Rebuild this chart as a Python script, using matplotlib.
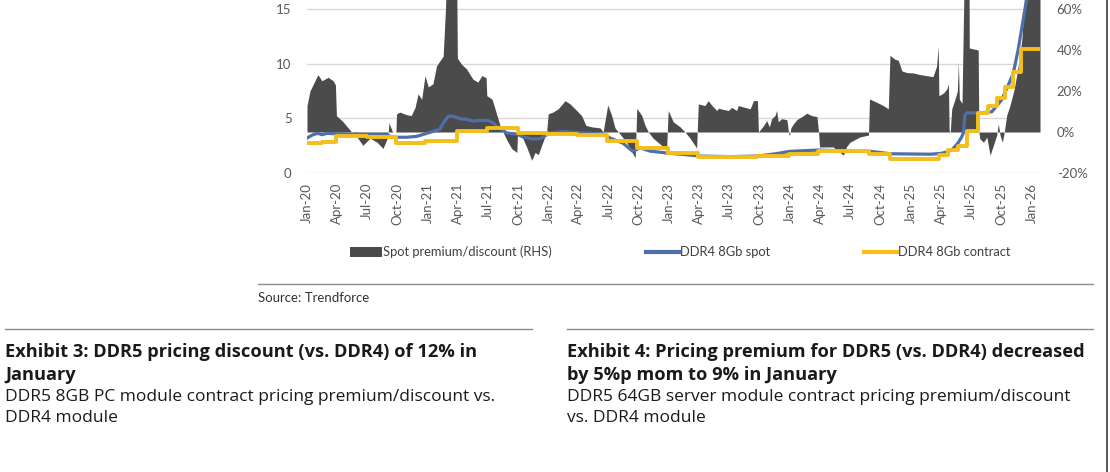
import matplotlib
matplotlib.use("Agg")
import matplotlib.pyplot as plt
import matplotlib.dates as mdates
from matplotlib.lines import Line2D
from matplotlib.patches import Patch
import pandas as pd

# spot premium/discount vs contract, % (right axis)
premium = [
    ("2020-01-01", 12.9), ("2020-01-10", 20), ("2020-01-22", 24), ("2020-02-03", 28),
    ("2020-02-15", 25), ("2020-03-05", 26.7), ("2020-03-20", 25), ("2020-03-27", 23),
    ("2020-03-30", 8), ("2020-04-19", 5), ("2020-05-15", 0), ("2020-05-25", -1),
    ("2020-06-18", -6.5), ("2020-07-10", -3), ("2020-07-31", -5), ("2020-08-18", -8),
    ("2020-08-31", -3), ("2020-09-03", 0), ("2020-09-05", 4.5), ("2020-09-16", 0),
    ("2020-09-26", 0), ("2020-09-28", 8.9), ("2020-10-08", 9.7), ("2020-10-27", 8.5),
    ("2020-11-11", 8), ("2020-11-23", 12), ("2020-12-02", 18.6), ("2020-12-13", 16),
    ("2020-12-23", 27.5), ("2021-01-02", 22), ("2021-01-16", 23.5), ("2021-01-27", 32.3),
    ("2021-02-16", 37), ("2021-02-23", 60), ("2021-02-28", 85), ("2021-03-15", 90),
    ("2021-03-29", 75), ("2021-03-31", 36), ("2021-04-13", 33), ("2021-04-28", 30.7),
    ("2021-05-17", 25.8), ("2021-06-01", 24.3), ("2021-06-13", 27.5), ("2021-06-26", 26.5),
    ("2021-06-28", 17.7), ("2021-07-14", 16), ("2021-07-23", 11.3), ("2021-08-07", 3.2),
    ("2021-08-16", 0), ("2021-08-28", -4), ("2021-09-11", -8), ("2021-09-27", -10),
    ("2021-09-29", 0), ("2021-10-12", -2), ("2021-10-27", -7.5), ("2021-11-11", -13.8),
    ("2021-11-21", -10), ("2021-12-01", -11), ("2021-12-11", -6.5), ("2021-12-26", 0),
    ("2021-12-31", 8.9), ("2022-01-14", 9.7), ("2022-01-30", 11.3), ("2022-02-20", 15.3),
    ("2022-03-07", 13.7), ("2022-03-27", 10.5), ("2022-04-11", 8), ("2022-04-24", 3.2),
    ("2022-05-12", 2.5), ("2022-06-06", 2), ("2022-06-15", 0), ("2022-06-29", 13.2),
    ("2022-07-11", 8), ("2022-07-21", 2), ("2022-07-31", 0), ("2022-08-25", -5),
    ("2022-09-10", -9.7), ("2022-09-20", -12.6), ("2022-09-25", 11.6), ("2022-10-10", 8),
    ("2022-10-20", 3.2), ("2022-10-30", 0), ("2022-11-13", -3), ("2022-12-09", -6.5),
    ("2022-12-24", -8.9), ("2022-12-29", 10.5), ("2023-01-13", 5), ("2023-02-03", 2.5),
    ("2023-02-18", 0), ("2023-03-05", -3), ("2023-03-25", -7.8), ("2023-03-30", 13.7),
    ("2023-04-19", 12.9), ("2023-04-29", 15.3), ("2023-05-10", 13), ("2023-05-25", 10.5),
    ("2023-05-30", 11.6), ("2023-06-14", 11), ("2023-06-29", 10.5), ("2023-07-09", 12),
    ("2023-07-24", 10.5), ("2023-07-29", 12.9), ("2023-08-18", 12), ("2023-09-03", 11.3),
    ("2023-09-13", 15.3), ("2023-09-25", 15.3), ("2023-09-28", 0), ("2023-10-13", 3),
    ("2023-10-23", 5.6), ("2023-10-31", 2.5), ("2023-11-07", 6.5), ("2023-11-17", 8),
    ("2023-11-22", 10.5), ("2023-11-27", 5), ("2023-12-07", 6.5), ("2023-12-23", 6),
    ("2023-12-28", 0), ("2023-12-31", -2), ("2024-01-04", 2), ("2024-01-12", 4),
    ("2024-01-22", 6), ("2024-02-11", 8), ("2024-02-21", 9.2), ("2024-03-07", 8),
    ("2024-03-23", 7.5), ("2024-03-28", 0), ("2024-03-31", -7.3), ("2024-05-11", -7.3),
    ("2024-06-11", -11.3), ("2024-06-21", -7), ("2024-07-01", -5), ("2024-07-31", -2.4),
    ("2024-08-26", -1.5), ("2024-08-29", 16.1), ("2024-09-20", 14.5), ("2024-10-10", 12.9),
    ("2024-10-25", 11.3), ("2024-10-30", 37.4), ("2024-11-14", 35.5), ("2024-11-24", 35),
    ("2024-12-05", 29.8), ("2024-12-20", 29), ("2025-01-09", 28.8), ("2025-01-29", 28),
    ("2025-02-18", 27.5), ("2025-03-09", 27), ("2025-03-20", 32), ("2025-03-25", 42),
    ("2025-03-27", 17.7), ("2025-04-10", 19), ("2025-04-20", 21), ("2025-04-25", 23.4),
    ("2025-04-27", 1), ("2025-04-30", -1), ("2025-05-05", 11.3), ("2025-05-15", 16.1),
    ("2025-05-22", 20), ("2025-05-25", 34), ("2025-05-28", 16), ("2025-06-05", 14),
    ("2025-06-12", 80), ("2025-06-20", 110), ("2025-06-26", 90), ("2025-06-27", 41),
    ("2025-07-24", 40), ("2025-07-26", 0), ("2025-07-29", -3.3), ("2025-08-09", -5),
    ("2025-08-19", -2.5), ("2025-08-29", -11.3), ("2025-09-08", -6.5), ("2025-09-18", -1.5),
    ("2025-09-23", 4), ("2025-09-28", -1.5), ("2025-10-05", -5), ("2025-10-11", 0),
    ("2025-10-18", 8), ("2025-10-28", 12.9), ("2025-11-10", 21), ("2025-11-22", 32),
    ("2025-12-03", 45), ("2025-12-11", 65), ("2025-12-28", 85), ("2026-01-27", 100),
]

# DDR4 8Gb spot price, US$ (left axis)
spot = [
    ("2020-01-01", 3.2), ("2020-01-19", 3.5), ("2020-02-03", 3.63), ("2020-02-15", 3.5),
    ("2020-03-02", 3.63), ("2020-03-20", 3.6), ("2020-05-10", 3.55), ("2020-07-01", 3.5),
    ("2020-08-27", 3.5), ("2020-09-17", 3.27), ("2020-10-30", 3.27), ("2020-11-28", 3.35),
    ("2020-12-17", 3.52), ("2021-01-16", 3.8), ("2021-02-06", 4.0), ("2021-02-16", 4.55),
    ("2021-03-03", 5.18), ("2021-03-18", 5.2), ("2021-04-08", 4.95), ("2021-04-29", 4.9),
    ("2021-05-17", 4.75), ("2021-06-07", 4.8), ("2021-07-02", 4.8), ("2021-07-17", 4.6),
    ("2021-07-28", 4.27), ("2021-08-16", 3.9), ("2021-08-27", 3.66), ("2021-09-27", 3.55),
    ("2021-10-16", 3.3), ("2021-11-15", 3.1), ("2021-12-06", 3.15), ("2021-12-15", 3.3),
    ("2022-01-05", 3.66), ("2022-02-14", 3.8), ("2022-03-16", 3.72), ("2022-04-15", 3.66),
    ("2022-06-15", 3.57), ("2022-07-06", 3.2), ("2022-08-14", 2.73), ("2022-09-13", 1.98),
    ("2022-10-05", 2.3), ("2022-11-04", 2.0), ("2023-01-03", 1.8), ("2023-02-12", 1.7),
    ("2023-04-04", 1.55), ("2023-07-04", 1.5), ("2023-09-24", 1.55), ("2023-11-17", 1.75),
    ("2024-01-01", 1.98), ("2024-03-26", 2.1), ("2024-05-17", 2.05), ("2024-07-01", 1.98),
    ("2024-08-31", 1.98), ("2024-09-24", 1.9), ("2024-10-30", 1.76), ("2024-12-30", 1.74),
    ("2025-02-28", 1.72), ("2025-03-30", 1.78), ("2025-04-18", 1.9), ("2025-05-05", 2.1),
    ("2025-05-24", 2.75), ("2025-06-04", 3.3), ("2025-06-09", 3.66), ("2025-06-14", 5.3),
    ("2025-06-20", 5.5), ("2025-07-20", 5.5), ("2025-08-19", 5.55), ("2025-09-03", 5.6),
    ("2025-09-13", 5.95), ("2025-10-03", 6.7), ("2025-10-23", 8.05), ("2025-11-07", 9.1),
    ("2025-11-22", 11.3), ("2025-12-07", 14), ("2025-12-17", 15.8), ("2026-01-27", 22),
]

# DDR4 8Gb contract price, US$ (left axis), value from each date on
contract = [
    ("2020-01-01", 2.75), ("2020-02-15", 2.85), ("2020-03-30", 3.35), ("2020-07-01", 3.25),
    ("2020-09-25", 2.74), ("2020-12-23", 2.9), ("2021-03-29", 3.85), ("2021-06-28", 4.1),
    ("2021-09-29", 3.66), ("2021-12-28", 3.55), ("2022-03-29", 3.5), ("2022-06-27", 2.9),
    ("2022-09-26", 2.3), ("2022-12-27", 1.85), ("2023-03-29", 1.5), ("2023-06-29", 1.45),
    ("2023-09-25", 1.55), ("2023-12-29", 1.78), ("2024-03-26", 2.0), ("2024-08-28", 1.7),
    ("2024-10-30", 1.27), ("2025-03-28", 1.65), ("2025-04-24", 2.1), ("2025-05-24", 2.45),
    ("2025-06-20", 3.85), ("2025-07-24", 5.45), ("2025-08-22", 6.1), ("2025-09-18", 6.85),
    ("2025-10-13", 7.9), ("2025-11-07", 9.27), ("2025-12-02", 11.3), ("2026-01-27", 11.3),
]

legend_labels = ["Spot premium/discount (RHS)", "DDR4 8Gb spot", "DDR4 8Gb contract"]
left_ticks = [0, 5, 10, 15]
right_ticks = [-0.2, 0, 0.2, 0.4, 0.6]

GRAY = "#4b4b4b"
BLUE = "#4f6faa"
YELLOW = "#f4bf1b"
TICK = "#595959"

plt.rcParams["font.family"] = ["Lato", "DejaVu Sans"]
BODY = ["Open Sans", "DejaVu Sans"]

prem_x = pd.to_datetime([d for d, _ in premium])
prem_y = [v / 100 for _, v in premium]
spot_x = pd.to_datetime([d for d, _ in spot])
spot_y = [v for _, v in spot]
con_x = pd.to_datetime([d for d, _ in contract])
con_y = [v for _, v in contract]

W, H = 1110, 472
fig = plt.figure(figsize=(W / 100, H / 100), dpi=100)

# plot area: bottom at y=173px, scale continues above the cropped page top
ax = fig.add_axes([307 / W, 1 - 173 / H, 733 / W, 328 / H])
ax2 = ax.twinx()
ax3 = ax.twinx()

ax.set_ylim(0, 30)
ax.set_yticks(left_ticks)
ax.grid(axis="y", color="#d9d9d9", lw=1)
ax.set_axisbelow(True)

ax2.fill_between(prem_x, 0, prem_y, color=GRAY, lw=0)
ax2.set_ylim(-0.2, 1.4)
ax2.set_yticks(right_ticks)
ax2.yaxis.set_major_formatter(matplotlib.ticker.FuncFormatter(lambda v, p: f"{v * 100:.0f}%"))

ax3.plot(spot_x, spot_y, color=BLUE, lw=2.3, solid_joinstyle="round")
ax3.step(con_x, con_y, where="post", color=YELLOW, lw=2.8)
ax3.set_ylim(0, 30)
ax3.set_yticks([])

for a in (ax, ax2, ax3):
    for s in a.spines.values():
        s.set_visible(False)
    a.set_xlim(pd.Timestamp("2020-01-01"), pd.Timestamp("2026-01-27"))

ax.xaxis.set_major_locator(mdates.MonthLocator(bymonth=[1, 4, 7, 10]))
ax.xaxis.set_major_formatter(mdates.DateFormatter("%b-%y"))
ax.tick_params(axis="x", length=0, pad=7, labelsize=9.5, labelcolor=TICK, labelrotation=90)
ax.tick_params(axis="y", length=0, pad=11, labelsize=9.5, labelcolor=TICK)
ax2.tick_params(axis="y", length=0, pad=12, labelsize=9.5, labelcolor=TICK)

handles = [
    Patch(facecolor=GRAY, edgecolor="none"),
    Line2D([], [], color=BLUE, lw=3),
    Line2D([], [], color=YELLOW, lw=3),
]
fig.legend(handles, legend_labels, loc="center", bbox_to_anchor=(680 / W, 1 - 252 / H),
           ncol=3, frameon=False, fontsize=9.3, labelcolor="#404040",
           handlelength=2.5, handleheight=0.8, handletextpad=0.1, columnspacing=7.3)

renderer = fig.canvas.get_renderer()


def rule(x0, x1, y, color="#8c8c8c"):
    fig.add_artist(Line2D([x0 / W, x1 / W], [1 - y / H, 1 - y / H],
                          transform=fig.transFigure, color=color, lw=1))


def text(x, y, s, size, weight="normal", color="#1a1a1a"):
    return fig.text(x / W, 1 - y / H, s, fontsize=size, fontweight=weight, color=color,
                    ha="left", va="center", family=BODY)


def fit_size(s, width, weight):
    # font size at which the line spans the given pixel width
    t = text(0, 0, s, 12, weight)
    w = t.get_window_extent(renderer).width
    t.remove()
    return 12 * width / w


rule(258, 1093, 283.5)
fig.text(258 / W, 1 - 298 / H, "Source: Trendforce", fontsize=9.5, color="#333333",
         ha="left", va="center")

rule(5, 532, 329)
rule(567, 1093, 329)

t3 = "Exhibit 3: DDR5 pricing discount (vs. DDR4) of 12% in"
s3 = "DDR5 8GB PC module contract pricing premium/discount vs."
t4 = "Exhibit 4: Pricing premium for DDR5 (vs. DDR4) decreased"
s4 = "DDR5 64GB server module contract pricing premium/discount"
bold_size = min(fit_size(t3, 477, "bold"), fit_size(t4, 519, "bold"))
reg_size = min(fit_size(s3, 488, "normal"), fit_size(s4, 503, "normal"))

text(5, 352, t3, bold_size, "bold")
text(5, 375, "January", bold_size, "bold")
text(5, 397, s3, reg_size)
text(5, 418, "DDR4 module", reg_size)
text(567, 352, t4, bold_size, "bold")
text(567, 375, "by 5%p mom to 9% in January", bold_size, "bold")
text(567, 397, s4, reg_size)
text(567, 418, "vs. DDR4 module", reg_size)

# page edge on the right
fig.add_artist(Line2D([1107 / W, 1107 / W], [0, 1], transform=fig.transFigure,
                      color="#3a3a3a", lw=1.2))

fig.savefig("out.png", dpi=100)
